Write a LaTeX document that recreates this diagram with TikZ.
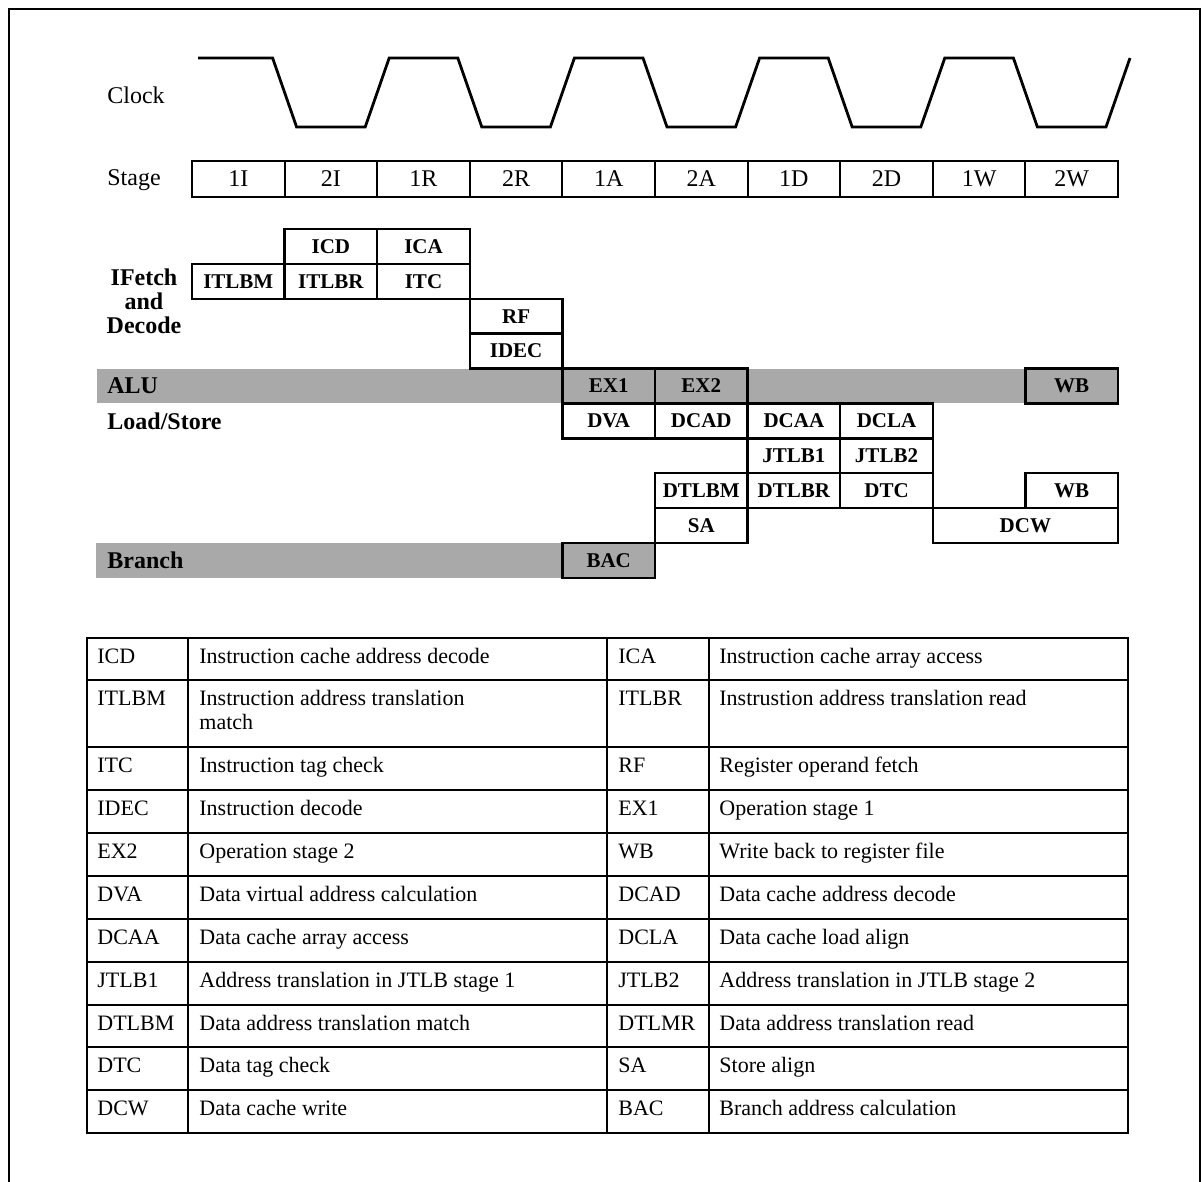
\documentclass[tikz,border=0pt]{standalone}
\usepackage{fontspec}
\setmainfont{Liberation Serif}
\definecolor{PipeGray}{HTML}{A9A9A9}
\newcommand{\lblfont}{\fontsize{12}{12}\selectfont}
\newcommand{\tabfont}{\fontsize{11}{12}\selectfont}
\newcommand{\boxfont}{\fontsize{10.5}{12}\selectfont\bfseries}
\newcommand{\cellstrut}{\rule{0pt}{9pt}}

\begin{document}
\begin{tikzpicture}[x=0.5pt, y=-0.5pt,
      pbox/.style={draw, line width=1.2pt, minimum width=46.3pt, minimum height=17.45pt, inner sep=0pt, font=\boxfont},
      shadebox/.style={pbox, fill=PipeGray},
      stagecell/.style={draw, line width=1pt, minimum width=46.3pt, minimum height=18pt, inner sep=0pt, font=\lblfont},
      rowlabel/.style={anchor=west, inner sep=0pt, font=\lblfont\bfseries},
      celltext/.style={anchor=north west, inner sep=0pt, align=left, font=\tabfont}]
   \useasboundingbox (0,0) rectangle (1201,1182);
   \draw[line width=1pt] (9,1182) -- (9,9) -- (1200,9) -- (1200,1182);

   % clock and stages
   \node[anchor=west, inner sep=0pt, font=\lblfont] (clk) at (107,95) {Clock};
   \draw[line width=1.4pt] (198,58) foreach \k in {1,3,5,7,9} {
         -- ({192+92.6*\k-12},58) -- ({192+92.6*\k+12},127)
         -- ({192+92.6*(\k+1)-12},127) -- ({192+92.6*(\k+1)+12},58) };
   \node[anchor=west, inner sep=0pt, font=\lblfont] (stg) at (107,180) {Stage};
   \foreach \s [count=\i from 0] in {1I,2I,1R,2R,1A,2A,1D,2D,1W,2W}
      \node[stagecell] (st\i) at ({192+92.6*(\i+0.5)},179) {\s};

   % shaded rows
   \fill[PipeGray] (97,368.6) rectangle (1118,403.5);
   \fill[PipeGray] (96,543.1) rectangle (562.4,578);
   \node[inner sep=0pt, align=center, font=\lblfont\bfseries] (ifd) at (144,301) {IFetch\\and\\Decode};
   \node[rowlabel] (alu) at (107,386) {ALU};
   \node[rowlabel] (ldst) at (107,421) {Load/Store};
   \node[rowlabel] (brn) at (107,560) {Branch};

   % pipeline boxes: name/column/row/text
   \foreach \n/\c/\r/\t in {icd/1/0/ICD, ica/2/0/ICA, itlbm/0/1/ITLBM, itlbr/1/1/ITLBR,
         itc/2/1/ITC, rf/3/2/RF, idec/3/3/IDEC, dva/4/5/DVA, dcad/5/5/DCAD,
         dcaa/6/5/DCAA, dcla/7/5/DCLA, jtlbi/6/6/JTLB1, jtlbii/7/6/JTLB2,
         dtlbm/5/7/DTLBM, dtlbr/6/7/DTLBR, dtc/7/7/DTC, wbb/9/7/WB, sa/5/8/SA}
      \node[pbox] (\n) at ({192+92.6*(\c+0.5)},{229+34.9*(\r+0.5)}) {\t};
   \foreach \n/\c/\r/\t in {exi/4/4/EX1, exii/5/4/EX2, wba/9/4/WB, bac/4/9/BAC}
      \node[shadebox] (\n) at ({192+92.6*(\c+0.5)},{229+34.9*(\r+0.5)}) {\t};
   \node[pbox, minimum width=92.6pt] (dcw) at ({192+92.6*9},{229+34.9*8.5}) {DCW};

   % legend table
   \draw[line width=0.7pt] (87,638) rectangle (1128,1133);
   \foreach \x in {188,607,709}
      \draw[line width=0.7pt] (\x,638) -- (\x,1133);
   \foreach \y in {680,747,790,833,876,919,962,1005,1047,1090}
      \draw[line width=0.7pt] (87,\y) -- (1128,\y);
   \foreach \y/\a/\da/\b/\db [count=\i] in {
         638/ICD/{Instruction cache address decode}/ICA/{Instruction cache array access},
         680/ITLBM/{Instruction address translation\\match}/ITLBR/{Instrustion address translation read},
         747/ITC/{Instruction tag check}/RF/{Register operand fetch},
         790/IDEC/{Instruction decode}/EX1/{Operation stage 1},
         833/EX2/{Operation stage 2}/WB/{Write back to register file},
         876/DVA/{Data virtual address calculation}/DCAD/{Data cache address decode},
         919/DCAA/{Data cache array access}/DCLA/{Data cache load align},
         962/JTLB1/{Address translation in JTLB stage 1}/JTLB2/{Address translation in JTLB stage 2},
         1005/DTLBM/{Data address translation match}/DTLMR/{Data address translation read},
         1047/DTC/{Data tag check}/SA/{Store align},
         1090/DCW/{Data cache write}/BAC/{Branch address calculation}} {
      \node[celltext] (ka\i) at (97,\y+7) {\cellstrut\a};
      \node[celltext] (da\i) at (199,\y+7) {\cellstrut\da};
      \node[celltext] (kb\i) at (618,\y+7) {\cellstrut\b};
      \node[celltext] (db\i) at (719,\y+7) {\cellstrut\db};
   }
\end{tikzpicture}
\end{document}
